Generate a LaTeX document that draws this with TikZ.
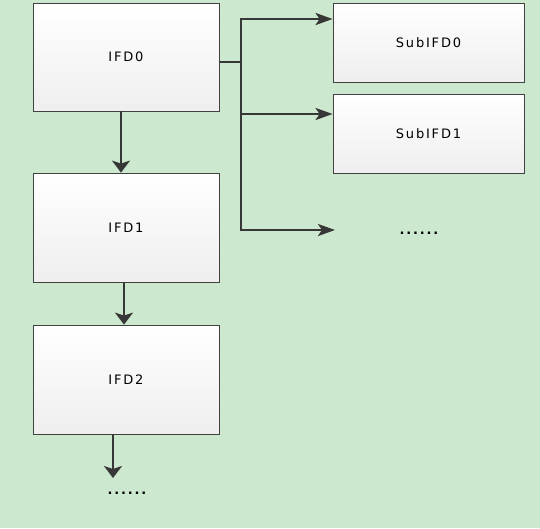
\documentclass[tikz,border=0pt]{standalone}
\usepackage{fontspec}
\usetikzlibrary{arrows.meta}
\newfontfamily\lbl[LetterSpace=14]{DejaVu Sans}
\definecolor{bg}{RGB}{204,232,207}
\definecolor{ln}{RGB}{55,55,55}
\definecolor{bd}{RGB}{65,65,65}
\begin{document}
\begin{tikzpicture}[x=1pt,y=-1pt,
  box/.style={draw=bd,line width=0.8pt,top color=white,bottom color=gray!13,
    font=\lbl\fontsize{13}{14}\selectfont,text=black,inner sep=0pt},
  vline/.style={draw=ln,line width=2.8pt},
  darr/.style={vline,-{Stealth[length=12pt,width=18pt,inset=3pt]}},
  harr/.style={vline,-{Stealth[length=17pt,width=12pt,inset=4pt]}},
  dots/.style={font=\lbl\fontsize{13}{14}\selectfont\bfseries,text=black,inner sep=0pt}]
\fill[bg] (0,0) rectangle (540,528);
\useasboundingbox (0,0) rectangle (540,528);
\node[box,minimum width=186pt,minimum height=108pt] (IFD0) at (126,57) {IFD0};
\node[box,minimum width=186pt,minimum height=109pt] (IFD1) at (126,227.5) {IFD1};
\node[box,minimum width=186pt,minimum height=109pt] (IFD2) at (126,379.5) {IFD2};
\node[box,minimum width=191pt,minimum height=79pt] (S0) at (428.5,42.5) {SubIFD0};
\node[box,minimum width=191pt,minimum height=79pt] (S1) at (428.5,133.5) {SubIFD1};
\node[dots] (D1) at (419,233) {......};
\node[dots] (D2) at (127,493) {......};
\coordinate (B0) at (241,19);
\coordinate (B1) at (241,114);
\coordinate (B2) at (241,230);
\coordinate (BE) at (335,230);
\coordinate (E2) at (113,478);
\draw[darr] ([xshift=-5pt]IFD0.south) -- ([xshift=-5pt]IFD1.north);
\draw[darr] ([xshift=-2pt]IFD1.south) -- ([xshift=-2pt]IFD2.north);
\draw[darr] ([xshift=-13pt]IFD2.south) -- (E2);
\draw[vline] ([yshift=-5pt]IFD0.east) -- ([yshift=-5pt]IFD0.east -| B0);
\draw[vline,line cap=rect] (B0) -- (B2);
\draw[harr] (B0) -- (B0 -| S0.west);
\draw[harr] (B1) -- (B1 -| S1.west);
\draw[harr] (B2) -- (BE);
\end{tikzpicture}
\end{document}
